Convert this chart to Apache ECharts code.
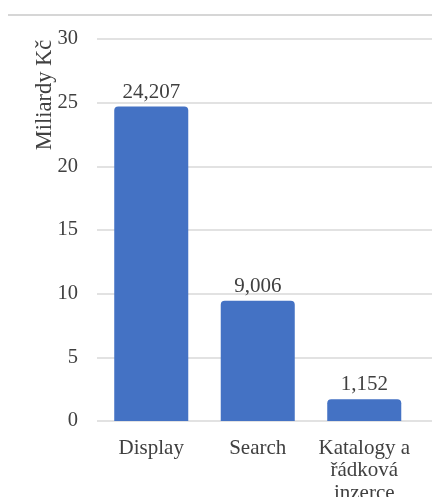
<!DOCTYPE html>
<html>
<head>
<meta charset="utf-8">
<script src="https://cdn.jsdelivr.net/npm/echarts@6/dist/echarts.min.js"></script>
<style>html,body{margin:0;padding:0;background:#fff}#c{width:432px;height:497px}</style>
</head>
<body>
<div id="c"></div>
<script>
const categories = ['Display', 'Search', 'Katalogy a\nřádková\ninzerce'];
const values = [24.7, 9.45, 1.7];
const valueLabels = ['24,207', '9,006', '1,152'];
const yTicks = [0, 5, 10, 15, 20, 25, 30];
const yAxisTitle = 'Miliardy Kč';

const FONT = 'Liberation Serif, DejaVu Serif, serif';
const TEXT = '#404040';
const chart = echarts.init(document.getElementById('c'), null, {renderer: 'canvas'});
chart.setOption({
  animation: false,
  backgroundColor: '#fff',
  textStyle: {fontFamily: FONT},
  graphic: [
    {type: 'line', shape: {x1: 8, y1: 15, x2: 432, y2: 15}, style: {stroke: '#d6d6d6', lineWidth: 2}},
    {type: 'text', x: 45, y: 95, rotation: Math.PI / 2,
     style: {text: yAxisTitle, fill: TEXT, fontFamily: FONT, fontSize: 22.5, align: 'center', verticalAlign: 'middle'}}
  ],
  grid: [
    {left: 98, right: 14.5, top: 39, bottom: 76, outerBoundsMode: 'none', containLabel: false},
    {left: 97, right: 0, top: 39, bottom: 76, outerBoundsMode: 'none', containLabel: false}
  ],
  xAxis: [
    {type: 'category', gridIndex: 0, data: categories,
     axisLine: {show: false}, axisTick: {show: false},
     axisLabel: {color: TEXT, fontFamily: FONT, fontSize: 21, lineHeight: 22.5, margin: 16, interval: 0}},
    {type: 'value', gridIndex: 1, show: false}
  ],
  yAxis: [
    {type: 'value', gridIndex: 0, min: yTicks[0], max: yTicks[yTicks.length - 1], interval: 5,
     axisLine: {show: false}, axisTick: {show: false}, splitLine: {show: false},
     axisLabel: {show: false}},
    {type: 'value', gridIndex: 1, min: yTicks[0], max: yTicks[yTicks.length - 1], interval: 5,
     axisLine: {show: false}, axisTick: {show: false},
     splitLine: {show: true, lineStyle: {color: '#d9d9d9', width: 1.5}},
     axisLabel: {color: TEXT, fontFamily: FONT, fontSize: 20.5, margin: 19}}
  ],
  series: [{
    type: 'bar', xAxisIndex: 0, yAxisIndex: 0,
    data: values,
    barWidth: '69.5%',
    itemStyle: {color: '#4472C4', borderRadius: [4, 4, 0, 0]},
    label: {show: true, position: 'top', distance: 4, color: TEXT, fontFamily: FONT, fontSize: 21,
      formatter: p => valueLabels[p.dataIndex]}
  }]
});
</script>
</body>
</html>
